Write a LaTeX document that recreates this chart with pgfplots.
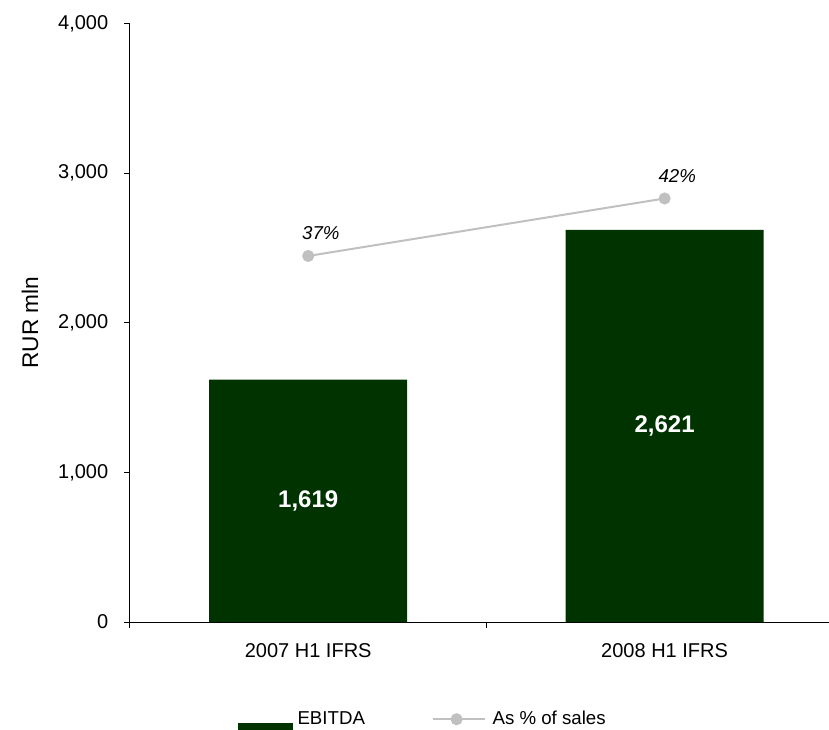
\documentclass[border=0pt]{standalone}
\usepackage{fontspec}
\setmainfont{Liberation Sans}
\usepackage{pgfplots}
\usepackage{pgfplotstable}
\pgfplotsset{compat=1.18}
\pgfplotsset{/pgf/number format/assume math mode=true, /pgf/number format/1000 sep={,}}

\definecolor{ebitda}{RGB}{0,51,0}
\definecolor{pctline}{RGB}{192,192,192}

% EBITDA (RUR mln) and EBITDA margin (% of sales)
\pgfplotstableread{
x v p
0 1619 37
1 2621 42
}\ebitdadata

\begin{document}
\begin{tikzpicture}
\useasboundingbox (-97.5pt,-80.25pt) rectangle (524.25pt,466.5pt);
% primary axis: EBITDA bars
\begin{axis}[
  scale only axis, width=524.25pt, height=448.9pt,
  at={(0pt,0pt)}, anchor=south west,
  xmin=-0.5, xmax=1.4613, ymin=0, ymax=4000,
  axis lines=left, axis line style={-, line width=0.75pt, black},
  tick align=outside, major tick length=4.125pt,
  tick style={black, line width=0.75pt},
  ytick={0,1000,2000,3000,4000},
  yticklabel style={font=\fontsize{15}{18}\selectfont, anchor=east, inner sep=0pt, xshift=-12pt},
  xtick={-0.5,0.5}, xticklabels={},
  extra x ticks={0,1},
  extra x tick labels={2007 H1 IFRS,2008 H1 IFRS},
  extra x tick style={major tick length=0pt, tick style={draw=none},
    xticklabel style={font=\fontsize{15}{18}\selectfont, anchor=north, inner sep=0pt, yshift=-15.75pt}},
  ylabel={RUR mln},
  ylabel style={font=\fontsize{17}{20}\selectfont, at={(axis description cs:-0.1430,0.5)}, anchor=center, inner sep=0pt},
  bar width=0.5556,
  clip=false,
]
\addplot[ybar, fill=ebitda, draw=none] table[x=x, y=v] {\ebitdadata};
\addplot[draw=none, mark=none, nodes near coords, point meta=\thisrow{v},
  nodes near coords style={anchor=center, inner sep=0pt, text=white,
    font=\bfseries\fontsize{18}{21.6}\selectfont}]
  table[x=x, y expr=\thisrow{v}/2] {\ebitdadata};
\end{axis}
% secondary axis: margin line
\begin{axis}[
  scale only axis, width=524.25pt, height=448.9pt,
  at={(0pt,0pt)}, anchor=south west,
  xmin=-0.5, xmax=1.4613, ymin=5.174, ymax=57.217,
  hide axis, clip=false,
  legend columns=2,
  legend cell align=left,
  legend style={at={(axis description cs:0.1545,-0.1704)}, anchor=west,
    draw=none, fill=none, inner sep=0pt, outer sep=0pt,
    font=\fontsize{14}{16.8}\selectfont, nodes={inner sep=0pt},
    /tikz/every odd column/.append style={column sep=3.75pt},
    /tikz/every even column/.append style={column sep=50pt}},
]
\addlegendimage{legend image code/.code={\fill[ebitda] (0pt,-3pt) rectangle (40.5pt,-12.75pt);}}
\addlegendentry{EBITDA}
\addplot[pctline, line width=1.5pt, mark=*, mark size=3.75pt,
  mark options={draw=none, fill=pctline},
  nodes near coords={\pgfmathprintnumber{\pgfplotspointmeta}\%},
  point meta=\thisrow{p},
  nodes near coords style={anchor=base west, inner sep=0pt, text=black,
    font=\itshape\fontsize{14}{16.8}\selectfont, xshift=-5.25pt, yshift=12pt},
  legend image code/.code={\draw[pctline, line width=1.5pt] (0pt,0pt) -- (39pt,0pt);
    \fill[pctline] (18pt,0pt) circle (3.75pt); \path (40.5pt,0pt);}]
  table[x=x, y=p] {\ebitdadata};
\addlegendentry{As \% of sales}
\end{axis}
\end{tikzpicture}
\end{document}
